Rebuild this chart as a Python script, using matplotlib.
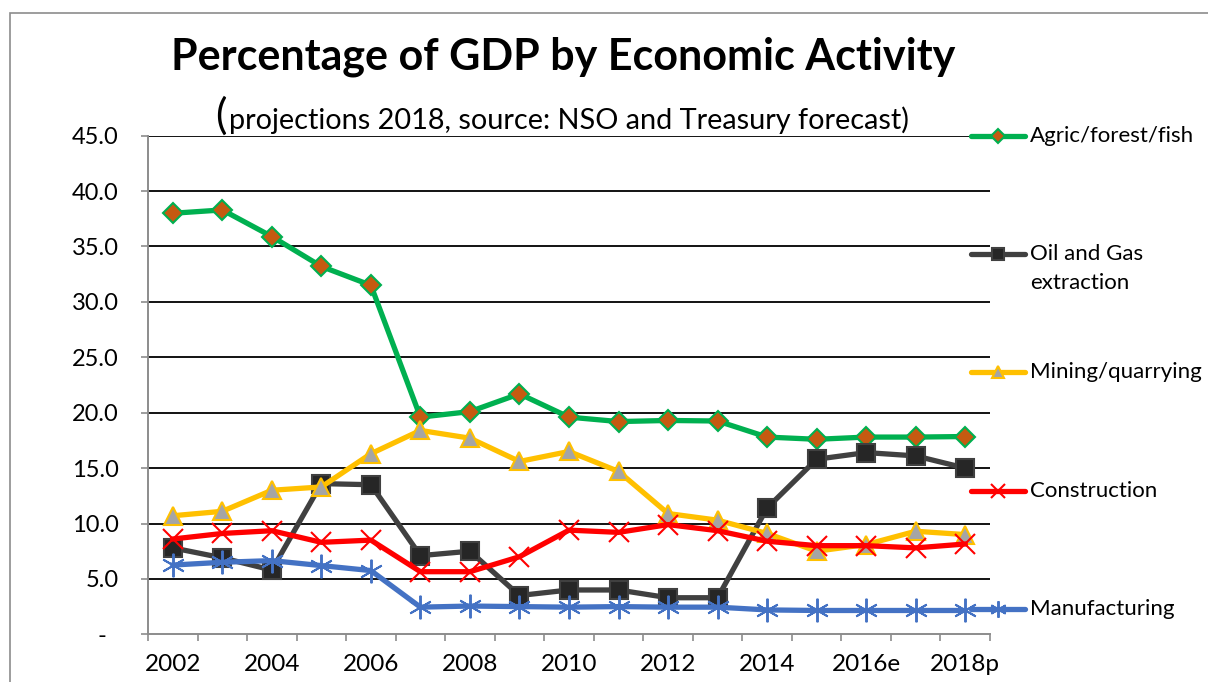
import matplotlib
matplotlib.use("Agg")
import matplotlib.pyplot as plt
from matplotlib.patches import Rectangle
from matplotlib.lines import Line2D

plt.rcParams['font.family'] = ['Lato', 'DejaVu Sans']

years = ["2002", "2003", "2004", "2005", "2006", "2007", "2008", "2009", "2010",
         "2011", "2012", "2013", "2014", "2015", "2016e", "2017", "2018p"]

agric = [38.0, 38.3, 35.9, 33.2, 31.5, 19.6, 20.1, 21.7, 19.6, 19.2, 19.3, 19.25,
         17.8, 17.6, 17.8, 17.8, 17.85]
oil_gas = [7.8, 6.9, 5.8, 13.6, 13.5, 7.1, 7.5, 3.5, 4.0, 4.0, 3.3, 3.3,
           11.4, 15.8, 16.4, 16.1, 15.0]
mining = [10.7, 11.1, 13.0, 13.3, 16.3, 18.4, 17.7, 15.6, 16.5, 14.7, 10.9, 10.3,
          9.1, 7.5, 8.1, 9.3, 9.0]
construction = [8.6, 9.1, 9.35, 8.3, 8.5, 5.65, 5.65, 7.0, 9.4, 9.2, 9.9, 9.35,
                8.4, 8.0, 8.0, 7.8, 8.15]
manufacturing = [6.25, 6.5, 6.65, 6.2, 5.75, 2.45, 2.55, 2.5, 2.45, 2.5, 2.45, 2.45,
                 2.2, 2.15, 2.15, 2.15, 2.15]

labels = ["Agric/forest/fish", "Oil and Gas\nextraction", "Mining/quarrying",
          "Construction", "Manufacturing"]
y_ticks = [0, 5, 10, 15, 20, 25, 30, 35, 40, 45]

# line colour, marker, marker face, marker edge, marker size, marker edge width
styles = [
    ("#00B050", "D", "#C55A11", "#00B050", 10, 1.5),
    ("#404040", "s", "#262626", "#404040", 13, 1.5),
    ("#FFC000", "^", "#A5A5A5", "#FFC000", 13, 1.5),
    ("#FF0000", "x", "#FF0000", "#FF0000", 14, 1.5),
    ("#4472C4", (6, 2, 0), "#4472C4", "#4472C4", 17, 1.4),
]
series = [agric, oil_gas, mining, construction, manufacturing]

fig = plt.figure(figsize=(12.08, 6.82), dpi=100)
ax = fig.add_axes([148 / 1208, 1 - 634.3 / 682, 842 / 1208, 498.6 / 682])

x = list(range(len(years)))
for vals, (col, mk, mfc, mec, ms, mew) in zip(series, styles):
    ax.plot(x, vals, color=col, lw=3.8, marker=mk, mfc=mfc, mec=mec, ms=ms,
            mew=mew, solid_joinstyle='round', clip_on=False, zorder=3)

ax.set_xlim(-0.5, len(years) - 0.5)
ax.set_ylim(0, 45)

# horizontal gridlines
for yv in y_ticks[1:]:
    ax.axhline(yv, color="black", lw=1.3, zorder=1)

ax.set_yticks(y_ticks)
ax.set_yticklabels(["-  "] + ["%.1f" % v for v in y_ticks[1:]])
ax.set_xticks(x[::2])
ax.set_xticklabels(years[::2])
ax.set_xticks([i - 0.5 for i in range(len(years) + 1)], minor=True)
ax.tick_params(axis='x', which='major', length=0, labelsize=17.5, pad=14)
ax.tick_params(axis='x', which='minor', length=5, width=1.2, color="#8c8c8c")
ax.tick_params(axis='y', length=5, width=1.2, color="#8c8c8c", labelsize=17, pad=16)

for side in ["top", "right"]:
    ax.spines[side].set_visible(False)
for side in ["left", "bottom"]:
    ax.spines[side].set_color("#8c8c8c")
    ax.spines[side].set_linewidth(1.4)

# legend drawn beside the plot area
leg_y = [0.9994, 0.7627, 0.5261, 0.2874, 0.0508]
for lab, (col, mk, mfc, mec, ms, mew), ly in zip(labels, styles, leg_y):
    ax.add_line(Line2D([0.977, 1.0416], [ly, ly], transform=ax.transAxes, color=col,
                       lw=3.8, solid_capstyle='round', clip_on=False, zorder=4))
    ax.add_line(Line2D([1.0093], [ly], transform=ax.transAxes, marker=mk, mfc=mfc,
                       mec=mec, ms=ms * 0.7, mew=mew, clip_on=False, zorder=5))
    for k, part in enumerate(lab.split("\n")):
        ax.text(1.0475, ly - k * 0.058, part, transform=ax.transAxes, fontsize=16,
                va='center', ha='left')

fig.text(563 / 1208, 1 - 57 / 682, "Percentage of GDP by Economic Activity",
         fontsize=31, fontweight='bold', ha='center', va='center')
fig.text(215 / 1208, 1 - 116 / 682, "(", fontsize=31, ha='left', va='center')
fig.text(229 / 1208, 1 - 129.5 / 682,
         "projections 2018, source: NSO and Treasury forecast)",
         fontsize=20.8, ha='left', va='baseline')

fig.patches.append(Rectangle((10 / 1208, -0.1), 1.2, 1 - 13 / 682 + 0.1,
                             transform=fig.transFigure, fill=False,
                             edgecolor="#8c8c8c", lw=1.2))

fig.savefig("out.png", dpi=100)
